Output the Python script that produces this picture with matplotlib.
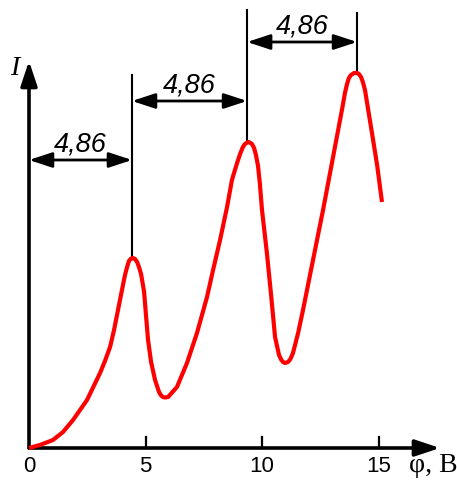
import matplotlib
matplotlib.use("Agg")
import matplotlib.pyplot as plt

# Franck-Hertz curve
phi = [0.00, 0.47, 1.03, 1.46, 1.89, 2.49, 3.05, 3.26, 3.48, 3.65, 3.82, 3.99,
       4.12, 4.21, 4.29, 4.38, 4.46, 4.55, 4.64, 4.72, 4.81, 4.89, 4.94, 5.02,
       5.11, 5.24, 5.41, 5.58, 5.67, 5.75, 5.84, 5.97, 6.35, 6.78, 7.21, 7.64,
       7.90, 8.20, 8.50, 8.71, 8.93, 9.06, 9.18, 9.27, 9.40, 9.48, 9.57, 9.66,
       9.74, 9.83, 9.91, 10.00, 10.21, 10.39, 10.56, 10.73, 10.82, 10.90,
       10.99, 11.12, 11.22, 11.33, 11.55, 11.76, 12.19, 12.62, 13.05, 13.43,
       13.56, 13.65, 13.73, 13.82, 13.95, 14.08, 14.16, 14.25, 14.33, 14.42,
       14.72, 14.94, 15.15]
current = [0.00, 0.03, 0.08, 0.16, 0.28, 0.48, 0.75, 0.87, 1.01, 1.18, 1.38, 1.58,
           1.73, 1.81, 1.87, 1.895, 1.90, 1.89, 1.86, 1.81, 1.74, 1.63, 1.56, 1.33,
           1.08, 0.86, 0.68, 0.56, 0.525, 0.51, 0.505, 0.51, 0.61, 0.85, 1.15, 1.51,
           1.78, 2.08, 2.41, 2.68, 2.85, 2.94, 3.01, 3.04, 3.06, 3.055, 3.04, 3.00,
           2.93, 2.82, 2.64, 2.38, 1.95, 1.53, 1.11, 0.93, 0.885, 0.86,
           0.85, 0.86, 0.89, 0.95, 1.15, 1.38, 1.88, 2.38, 2.91, 3.38,
           3.55, 3.64, 3.70, 3.73, 3.75, 3.75, 3.74, 3.71, 3.66, 3.58,
           3.15, 2.83, 2.46]

ticks = [5, 10, 15]
tick_labels = ["0", "5", "10", "15"]

# dimension marks between peaks
peak_x = [4.42, 9.36, 14.08]
peak_y = [1.90, 3.06, 3.75]
line_top = [3.73, 4.38, 4.35]
dim_left = [0.0, 4.42, 9.36]
dim_right = [4.42, 9.36, 14.08]
dim_y = [2.88, 3.47, 4.06]
dim_label = "4,86"


def arrow(ax, x0, y0, x1, y1, style, lw):
    ax.annotate("", xy=(x1, y1), xytext=(x0, y0),
                arrowprops=dict(arrowstyle=style, lw=lw, color="black",
                                shrinkA=0, shrinkB=0, mutation_scale=1))


fig = plt.figure(figsize=(4.57, 4.8), dpi=100)
ax = fig.add_axes([0, 0, 1, 1])
ax.set_xlim(-29 / 23.3, 428 / 23.3)
ax.set_ylim(-0.32, 4.48)
ax.axis("off")

# axes with arrow heads
arrow(ax, 0, 0, 17.64, 0, "-|>,head_length=15,head_width=5", 2.6)
arrow(ax, 0, 0, 0, 3.87, "-|>,head_length=15,head_width=5", 2.6)
for t in ticks:
    ax.plot([t, t], [0, 0.11], color="black", lw=1.6)
for t, lab in zip([0] + ticks, tick_labels):
    ax.text(t, -0.18, lab, ha="center", va="center", fontsize=16,
            family="Liberation Sans")
ax.text(17.35, -0.18, "φ, B", ha="center", va="center", fontsize=20,
        family="Liberation Serif")
ax.text(-0.62, 3.80, "I", ha="center", va="center", fontsize=20,
        family="Liberation Serif", style="italic")

# the curve
ax.plot(phi, current, color="red", lw=3.0, solid_joinstyle="round",
        solid_capstyle="butt", zorder=3)

# vertical marks from peaks and the 4,86 arrows
for x, yb, yt in zip(peak_x, peak_y, line_top):
    ax.plot([x, x], [yb, yt], color="black", lw=1.5, zorder=2)
for x0, x1, y in zip(dim_left, dim_right, dim_y):
    arrow(ax, x0, y, x1, y, "<|-|>,head_length=14,head_width=4.6", 2.0)
    ax.text((x0 + x1) / 2, y + 0.03, dim_label, ha="center", va="bottom",
            fontsize=19.5, family="Liberation Sans", style="italic")

fig.savefig("out.png", dpi=100)
plt.close(fig)
